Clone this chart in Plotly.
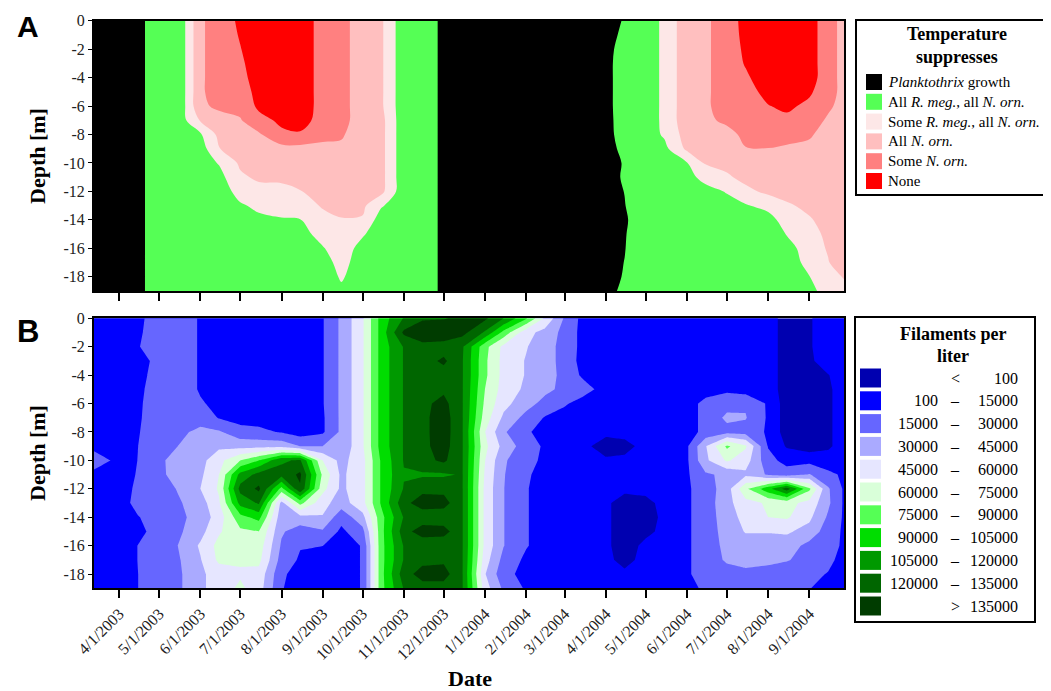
import numpy as np
import plotly.graph_objects as go

# ---------------- data ----------------
dates = ['2003-03-13', '2003-04-01', '2003-04-15', '2003-05-01', '2003-05-15', '2003-06-01',
         '2003-06-15', '2003-07-01', '2003-07-15', '2003-08-01', '2003-08-15', '2003-09-01',
         '2003-09-15', '2003-10-01', '2003-10-15', '2003-11-01', '2003-11-15', '2003-12-01',
         '2003-12-15', '2004-01-01', '2004-01-15', '2004-02-01', '2004-02-15', '2004-03-01',
         '2004-03-15', '2004-04-01', '2004-04-15', '2004-05-01', '2004-05-15', '2004-06-01',
         '2004-06-15', '2004-07-01', '2004-07-15', '2004-08-01', '2004-08-15', '2004-09-01',
         '2004-09-15', '2004-09-27']
depths = [0, -1, -2, -3, -4, -5, -6, -7, -8, -9, -10, -11, -12, -13, -14, -15, -16, -17, -18, -19]

# water temperature profiles [deg C], one list per date, depth 0 .. -19 m
temp_profiles = [
    [8, 8, 8, 8, 8, 8, 8, 8, 8, 8, 8, 8, 8, 8, 8, 8, 8, 8, 8, 8],
    [9, 9, 9, 9, 9, 9, 9, 9, 9, 9, 9, 9, 9, 9, 9, 9, 9, 9, 9, 9],
    [11, 11, 11, 11, 11, 11, 11, 11, 11, 11, 11, 11, 11, 11, 11, 11, 11, 11, 11, 11],
    [14, 14, 14, 14, 14, 14, 14, 14, 14, 14, 14, 14, 14, 14, 14, 14, 14, 14, 14, 14],
    [12.3, 12.3, 12.3, 12.3, 12.3, 12.3, 12.3, 13, 13, 13, 13, 13, 13, 13, 13, 13, 13, 13, 13, 13],
    [20.5, 20.5, 20.5, 20.5, 20.5, 20.5, 20.5, 18.3, 14.6, 13.5, 13.5, 13.5, 13.5, 13.5, 13.5, 13.5, 13.5, 13.5, 13.5, 13.5],
    [22.5, 22.5, 22.5, 22.5, 22.5, 22.5, 21.5, 20, 18.8, 17.9, 15.2, 14, 13.5, 13.5, 13.5, 13.5, 13.5, 13.5, 13.5, 13.5],
    [24.5, 24.2, 23.9, 23.5, 23, 22.5, 21.8, 20.8, 20, 19.2, 18.5, 17.5, 16, 14.7, 13.5, 13.5, 13.5, 13.5, 13.5, 13.5],
    [25.5, 25.5, 25.5, 25.5, 25.5, 25, 24.6, 23, 20.6, 19.8, 19.2, 18.5, 17, 15.5, 14.5, 13.5, 13.5, 13.5, 13.5, 13.5],
    [25.5, 25.5, 25.5, 25.5, 25.5, 25.5, 25, 24.6, 23.4, 20, 19.3, 18.6, 17.2, 16, 14.8, 13.5, 13.5, 13.5, 13.5, 13.5],
    [25.5, 25.5, 25.5, 25.5, 25.5, 25.5, 25.5, 25, 23.7, 20, 19.3, 18.8, 17.9, 16.5, 14.9, 14, 13.5, 13.5, 13.5, 13.5],
    [23, 23, 23, 23, 23, 23, 23, 23, 21.8, 20.3, 19.8, 19.3, 18.8, 18.3, 17, 16, 14.8, 13.8, 13.5, 13.5],
    [22, 22, 22, 22, 22, 22, 22, 22, 21.3, 20.5, 19.5, 19.2, 18.9, 18.5, 17.9, 17.2, 16.5, 16, 15.3, 14.5],
    [19.5, 19.5, 19.5, 19.5, 19.5, 19.5, 19.5, 19.5, 19.5, 19.5, 19.5, 19.5, 19.5, 18.6, 17.7, 15.3, 14, 13.5, 13.5, 13.5],
    [18.5, 18.5, 18.5, 18.5, 18.5, 18.5, 18.5, 19, 19, 19, 19, 19, 18.8, 15.3, 13.5, 13.5, 13.5, 13.5, 13.5, 13.5],
    [13, 13, 13, 13, 13, 13, 13, 13, 13, 13, 13, 13, 13, 13, 13, 13, 13, 13, 13, 13],
    [14, 14, 14, 14, 14, 14, 14, 14, 14, 14, 14, 14, 14, 14, 14, 14, 14, 14, 14, 14],
    [11.2, 11.2, 11.2, 11.2, 11.2, 11.2, 11.2, 11.2, 11.2, 11.2, 11.2, 11.2, 11.2, 11.2, 11.2, 11.2, 11.2, 11.2, 11.2, 11.2],
    [7, 7, 7, 7, 7, 7, 7, 7, 7, 7, 7, 7, 7, 7, 7, 7, 7, 7, 7, 7],
    [6, 6, 6, 6, 6, 6, 6, 6, 6, 6, 6, 6, 6, 6, 6, 6, 6, 6, 6, 6],
    [5, 5, 5, 5, 5, 5, 5, 5, 5, 5, 5, 5, 5, 5, 5, 5, 5, 5, 5, 5],
    [4.5, 4.5, 4.5, 4.5, 4.5, 4.5, 4.5, 4.5, 4.5, 4.5, 4.5, 4.5, 4.5, 4.5, 4.5, 4.5, 4.5, 4.5, 4.5, 4.5],
    [4.5, 4.5, 4.5, 4.5, 4.5, 4.5, 4.5, 4.5, 4.5, 4.5, 4.5, 4.5, 4.5, 4.5, 4.5, 4.5, 4.5, 4.5, 4.5, 4.5],
    [5, 5, 5, 5, 5, 5, 5, 5, 5, 5, 5, 5, 5, 5, 5, 5, 5, 5, 5, 5],
    [7, 7, 7, 7, 7, 7, 7, 7, 7, 7, 7, 7, 7, 7, 7, 7, 7, 7, 7, 7],
    [11, 11, 11, 11, 11, 11, 11, 11, 11, 11, 11, 11, 11, 11, 11, 11, 11, 11, 11, 11],
    [12.2, 12.6, 13.3, 13.7, 13.7, 13.7, 13.7, 13.5, 13.3, 12.7, 12.2, 12.3, 12.05, 11.9, 11.6, 11.8, 11.9, 12.05, 12.2, 12.7],
    [13.5, 13.5, 13.5, 13.5, 13.5, 13.5, 13.5, 13.5, 13.5, 14, 14, 14, 14, 14, 14, 14, 14, 14, 14, 14],
    [15.6, 15.6, 15.6, 15.6, 15.6, 15.6, 15.6, 15.6, 15.4, 14.2, 14, 14, 14, 14, 14, 14, 14, 14, 14, 14],
    [20, 20, 20, 20, 20, 20, 20, 20, 19.3, 18.6, 14.9, 14, 14, 14, 14, 14, 14, 14, 14, 14],
    [20.5, 20.5, 20.5, 20.5, 20.5, 20.5, 20.5, 20.5, 20.5, 19.5, 18.3, 16, 14, 14, 14, 14, 14, 14, 14, 14],
    [22.5, 22.5, 22.5, 22.5, 22.5, 22.5, 22.5, 21.5, 20.2, 19.5, 18.8, 17.6, 15.2, 14, 14, 14, 14, 14, 14, 14],
    [25, 24.8, 24.5, 24.2, 23.6, 23, 22.6, 22.2, 21.6, 20.9, 19.8, 18.8, 17.3, 14.7, 14, 14, 14, 14, 14, 14],
    [25.5, 25.5, 25.5, 25.5, 25.5, 24.8, 23.9, 23, 22, 20.95, 20, 19.2, 18.6, 16, 13.8, 14, 14, 14, 14, 14],
    [25.5, 25.5, 25.5, 25.5, 25.5, 25.5, 24.5, 23.4, 22, 20.6, 20, 19.5, 18.8, 17.7, 16.5, 15.1, 14, 14, 14, 14],
    [25.3, 25.3, 25.3, 25.3, 25.3, 24.4, 23.4, 22.4, 21.3, 20.4, 19.8, 19.4, 19, 18.5, 17.8, 17, 16.3, 15.6, 14.95, 14.3],
    [22.3, 22.3, 22.3, 22.3, 22.3, 22.3, 21.5, 20.6, 20, 19.8, 19.6, 19.4, 19.2, 19, 18.8, 18.6, 18.3, 17.8, 16.8, 16],
    [20, 20, 20, 20, 20, 20, 20, 20, 20, 20, 20, 20, 20, 20, 20, 20, 20, 20, 18.2, 17],
]

# Planktothrix filaments per liter [thousands], one list per date, depth 0 .. -19 m
filament_profiles_k = [
    [8, 8, 8, 8, 8, 8, 8, 8, 8, 8, 28, 8, 8, 8, 8, 8, 8, 8, 8, 8],
    [8, 8, 8, 8, 8, 8, 8, 8, 8, 8, 8, 8, 8, 8, 8, 8, 8, 8, 8, 8],
    [11.8, 12.9, 14.2, 6, 9.5, 11.8, 12.9, 13.4, 14.2, 14.9, 15.2, 16.1, 18, 19.9, 14.2, 10.3, 15.2, 15.2, 14.9, 14.9],
    [22, 22, 22, 22, 22, 22, 22, 22, 22, 22, 27, 27, 22, 22, 22, 22, 22, 22, 22, 22],
    [27, 27, 27, 27, 27, 27, 26, 26, 27, 30, 36, 35, 31, 28, 26, 27, 30, 28, 27, 27],
    [13, 13, 13, 13, 13, 13, 17, 25, 33, 38, 40, 42, 45, 38, 36, 40, 47, 44, 42, 42],
    [10, 10, 10, 10, 10, 10, 10, 14, 32, 42, 55, 60, 62, 58, 52, 58, 65, 63, 52, 52],
    [10, 10, 10, 10, 10, 10, 10, 10, 20, 40, 75, 110, 125, 110, 85, 72, 66, 62, 58, 63],
    [10, 10, 10, 10, 10, 10, 10, 10, 18, 40, 90, 125, 138, 122, 95, 75, 68, 64, 55, 52],
    [10, 10, 10, 10, 10, 10, 10, 10, 14, 40, 118, 125, 85, 40, 35, 32, 28, 24, 18, 16],
    [10, 10, 10, 10, 10, 10, 10, 10, 8, 30, 122, 138, 133, 80, 40, 22, 16, 13, 8, 8],
    [14, 14, 14, 14, 14, 14, 14, 13, 13, 30, 60, 72, 65, 50, 44, 28, 15.2, 9, 9, 9],
    [33, 33, 33, 33, 33, 33, 33, 33, 33, 33, 40, 42, 42, 38, 20, 12, 8, 8, 8, 8],
    [58, 58, 58, 58, 58, 58, 58, 58, 58, 58, 55, 55, 55, 55, 40, 25, 16, 16, 16, 16],
    [96, 96, 96, 96, 96, 96, 96, 96, 96, 96, 92, 92, 92, 92, 85, 85, 85, 85, 85, 85],
    [121, 138, 121, 121, 121, 121, 121, 121, 121, 121, 121, 119, 121, 130, 121, 128, 121, 121, 128, 121],
    [133, 146, 130, 128, 128, 128, 131, 131, 131, 131, 130, 118, 130, 144, 124, 144, 122, 130, 142, 128],
    [134, 146, 128, 138, 128, 132, 140, 143, 143, 142, 138, 118, 130, 142, 124, 142, 122, 132, 142, 128],
    [138, 140, 122, 121, 121, 121, 121, 121, 121, 121, 121, 121, 121, 121, 121, 121, 121, 121, 121, 121],
    [138, 118, 80, 78, 78, 75, 72, 68, 60.5, 64, 60.5, 58, 56, 56, 56, 56, 56, 52, 46, 52],
    [120, 85, 56, 55, 55, 54, 50, 42, 32, 40, 32, 31, 30.5, 30.5, 30.5, 30.5, 30.5, 25, 20, 27],
    [92, 50, 46, 44, 44, 42, 36, 25, 17, 22, 20, 17, 16, 16, 16, 16, 16, 12, 10, 13],
    [58, 40, 36, 36, 36, 34, 25, 14, 10, 13, 12, 10, 9, 9, 9, 9, 9, 8, 8, 8],
    [28, 25, 25, 25, 26, 26, 17, 8, 8, 8, 8, 8, 8, 8, 8, 8, 8, 8, 8, 8],
    [10, 10, 10, 9, 12, 22, 8, 8, 8, 8, 8, 8, 8, 8, 8, 8, 8, 8, 8, 8],
    [8, 8, 8, 8, 8, 8, 8, 8, 8, 0, 5, 8, 8, 6, 6, 6, 6, 6, 8, 8],
    [8, 8, 8, 8, 8, 8, 8, 8, 8, 0.05, 5, 8, 8, 0, 0, 0, 0, 0.05, 5, 8],
    [8, 8, 8, 8, 8, 8, 8, 8, 8, 8, 8, 8, 8, 0.05, 0, 0.05, 8, 8, 8, 8],
    [8, 8, 8, 8, 8, 8, 8, 8, 8, 8, 8, 8, 8, 8, 8, 8, 8, 8, 8, 8],
    [8, 8, 8, 8, 8, 8, 8, 8, 8, 13, 13, 13, 13, 13, 13, 13, 13, 13, 13, 10],
    [8, 8, 8, 8, 8, 8, 20, 20, 20, 44, 42, 28, 22, 22, 22, 22, 22, 22, 22, 18],
    [8, 8, 8, 8, 8, 12, 25, 33, 25, 78, 62, 33, 38, 40, 38, 36, 34, 32, 24, 20],
    [8, 8, 8, 8, 8, 8, 28, 31, 24, 62, 52, 42, 72, 55, 50, 46, 38, 34, 27, 22],
    [8, 8, 8, 8, 8, 8, 13, 13, 13, 14, 20, 28, 100, 62, 60, 46, 38, 33, 25, 20],
    [0.05, 0.05, 0.05, 0.05, 0.05, 0.05, 0.05, 0.05, 0.05, 0.09, 10, 22, 128, 65, 62, 47, 38, 31, 22, 18],
    [0.09, 0.09, 0.09, 0.08, 0.05, 0.05, 0.05, 0.05, 0.05, 0.05, 10, 31, 78, 55, 48, 40, 25, 25, 20, 15.5],
    [8, 8, 8, 8, 0.095, 0.08, 0.08, 0.08, 0.08, 0.08, 8, 18, 32, 33, 28, 22, 20, 20, 14, 10],
    [8, 8, 8, 8, 8, 8, 8, 8, 8, 8, 8, 13, 13, 13, 13, 13, 13, 8, 8, 8],
]

tick_dates = ['2003-04-01', '2003-05-01', '2003-06-01', '2003-07-01', '2003-08-01', '2003-09-01',
              '2003-10-01', '2003-11-01', '2003-12-01', '2004-01-01', '2004-02-01', '2004-03-01',
              '2004-04-01', '2004-05-01', '2004-06-01', '2004-07-01', '2004-08-01', '2004-09-01']
tick_labels = ['4/1/2003', '5/1/2003', '6/1/2003', '7/1/2003', '8/1/2003', '9/1/2003',
               '10/1/2003', '11/1/2003', '12/1/2003', '1/1/2004', '2/1/2004', '3/1/2004',
               '4/1/2004', '5/1/2004', '6/1/2004', '7/1/2004', '8/1/2004', '9/1/2004']
depth_ticks = [0, -2, -4, -6, -8, -10, -12, -14, -16, -18]
depth_labels = ['0', '-2', '-4', '-6', '-8', '-10', '-12', '-14', '-16', '-18']

# temperature class thresholds (deg C) and legend
temp_thresholds = [12, 15, 18, 21, 24]
temp_classes = ['<i>Planktothrix</i> growth', 'All <i>R. meg.</i>, all <i>N. orn.</i>',
                'Some <i>R. meg.</i>, all <i>N. orn.</i>', 'All <i>N. orn.</i>',
                'Some <i>N. orn.</i>', 'None']
temp_colors = ['#000000', '#55FF55', '#FDE7E7', '#FFBFBF', '#FF8080', '#FF0000']

# filament class edges (thousands per liter) and legend
fil_edges_k = [0, 0.1, 15, 30, 45, 60, 75, 90, 105, 120, 135, 150]
fil_low = ['', '100', '15000', '30000', '45000', '60000', '75000', '90000', '105000', '120000', '']
fil_high = ['100', '15000', '30000', '45000', '60000', '75000', '90000', '105000', '120000', '135000', '135000']
fil_sign = ['<', '–', '–', '–', '–', '–', '–', '–', '–', '–', '>']
fil_colors = ['#0000B0', '#0000FF', '#6666FF', '#AAAAFF', '#E6E6FF', '#D9FFD9',
              '#55FF55', '#00DD00', '#009900', '#006600', '#003C00']

# ---------------- figure ----------------
W, H = 1051, 691
OFF = 8  # page body margin in the browser
SERIF = 'Liberation Serif'


def px(x):
    return (x - OFF) / W


def py(y):
    return 1 - (y - OFF) / H


def step_scale(colors):
    n = len(colors) - 1
    cs = []
    for k, c in enumerate(colors):
        lo = max(0.0, (k - 0.5) / n)
        hi = min(1.0, (k + 0.5) / n)
        cs.append([lo, c])
        cs.append([hi, c])
    return cs


z_temp = np.array(temp_profiles, dtype=float).T
z_fil = np.array(filament_profiles_k, dtype=float).T
# map filament counts onto class-index scale so the uneven class edges become unit steps
z_fil_cls = np.interp(z_fil, fil_edges_k, np.arange(len(fil_edges_k)))

fig = go.Figure()
fig.add_trace(go.Contour(
    x=dates, y=depths, z=z_temp, xaxis='x', yaxis='y',
    contours=dict(start=temp_thresholds[0], end=temp_thresholds[-1],
                  size=temp_thresholds[1] - temp_thresholds[0], coloring='fill', showlines=False),
    colorscale=step_scale(temp_colors), showscale=False,
    line=dict(width=0, smoothing=1), hoverinfo='skip'))
fig.add_trace(go.Contour(
    x=dates, y=depths, z=z_fil_cls, xaxis='x2', yaxis='y2',
    contours=dict(start=1, end=10, size=1, coloring='fill', showlines=False),
    colorscale=step_scale(fil_colors), showscale=False,
    line=dict(width=0, smoothing=0), hoverinfo='skip'))

xdom = [px(94), px(844)]
xrange_ = ['2003-03-13', '2004-09-27']
axis_common = dict(showline=True, linecolor='black', linewidth=2, mirror=True, automargin=False,
                   showgrid=False, zeroline=False, ticks='outside', tickcolor='black')
tickfont = dict(family=SERIF, size=16, color='#222')

fig.update_layout(
    template='none',
    width=W, height=H, margin=dict(l=0, r=0, t=0, b=0, pad=0, autoexpand=False),
    paper_bgcolor='white', plot_bgcolor='white', showlegend=False,
    font=dict(family=SERIF, color='black'),
    xaxis=dict(domain=xdom, anchor='y', type='date', range=xrange_, tickvals=tick_dates,
               showticklabels=False, ticklen=8, tickwidth=1.5, **axis_common),
    yaxis=dict(domain=[py(291), py(20.7)], anchor='x', range=[-19, 0], tickvals=depth_ticks,
               ticktext=depth_labels, ticklen=4, tickwidth=1.2, tickfont=tickfont, **axis_common),
    xaxis2=dict(domain=xdom, anchor='y2', type='date', range=xrange_, tickvals=tick_dates,
                ticktext=tick_labels, tickangle=-45, ticklen=8, tickwidth=1.5,
                tickfont=tickfont, **axis_common),
    yaxis2=dict(domain=[py(588.3), py(318.3)], anchor='x2', range=[-19, 0], tickvals=depth_ticks,
                ticktext=depth_labels, ticklen=4, tickwidth=1.2, tickfont=tickfont, **axis_common),
)

annotations = []
shapes = []


def text(x, y, s, size, xanchor='center', yanchor='middle', angle=0, family=SERIF):
    annotations.append(dict(x=px(x), y=py(y), xref='paper', yref='paper', text=s, showarrow=False,
                            xanchor=xanchor, yanchor=yanchor, textangle=angle,
                            font=dict(family=family, size=size, color='black')))


# panel letters and axis titles
text(28, 8, '<b>A</b>', 30, yanchor='top', family='Liberation Sans')
text(28, 331, '<b>B</b>', 31, family='Liberation Sans')
text(37, 156, '<b>Depth [m]</b>', 22, angle=-90)
text(37, 453, '<b>Depth [m]</b>', 22, angle=-90)
text(470, 678, '<b>Date</b>', 22)

# legend A
shapes.append(dict(type='rect', xref='paper', yref='paper', x0=px(856), x1=px(1047), y0=py(195), y1=py(20),
                   line=dict(color='black', width=2), fillcolor='white'))
text(957, 34, '<b>Temperature</b>', 18)
text(957, 57, '<b>suppresses</b>', 18)
for i, (lab, col) in enumerate(zip(temp_classes, temp_colors)):
    yc = 82 + i * 19.8
    shapes.append(dict(type='rect', xref='paper', yref='paper', x0=px(866), x1=px(882),
                       y0=py(yc + 8), y1=py(yc - 8), line=dict(width=0), fillcolor=col))
    text(886, yc, lab, 15, xanchor='left')

# legend B
shapes.append(dict(type='rect', xref='paper', yref='paper', x0=px(855), x1=px(1035), y0=py(622), y1=py(317),
                   line=dict(color='black', width=2), fillcolor='white'))
text(953, 334, '<b>Filaments per</b>', 18)
text(953, 356, '<b>liter</b>', 18)
for i, col in enumerate(fil_colors):
    yc = 378 + i * 22.8
    shapes.append(dict(type='rect', xref='paper', yref='paper', x0=px(860), x1=px(881),
                       y0=py(yc + 9.5), y1=py(yc - 9.5), line=dict(width=0), fillcolor=col))
    if fil_low[i]:
        text(940, yc, fil_low[i], 16, xanchor='right')
    text(955, yc, fil_sign[i], 16)
    text(1020, yc, fil_high[i], 16, xanchor='right')

fig.update_layout(annotations=annotations, shapes=shapes)
fig.write_html('out.html')
